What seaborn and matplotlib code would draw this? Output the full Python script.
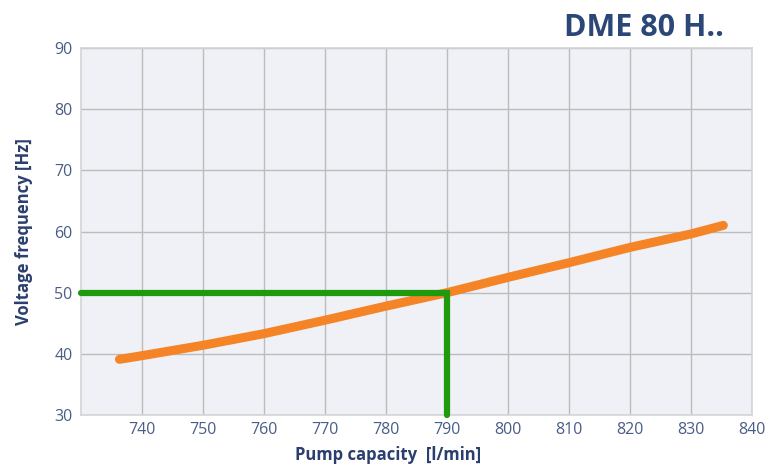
import matplotlib
matplotlib.use("Agg")
import matplotlib.pyplot as plt
import seaborn as sns

# Pump curve (capacity l/min vs frequency Hz)
capacity = [736.3, 740, 750, 760, 770, 780, 790, 800, 810, 820, 830, 835.3]
frequency = [39.1, 39.7, 41.4, 43.3, 45.5, 47.8, 50.0, 52.5, 54.9, 57.4, 59.6, 61.0]

# Operating point guide (50 Hz -> 790 l/min)
guide_x = [730, 790, 790]
guide_y = [50, 50, 30]

x_ticks = [740, 750, 760, 770, 780, 790, 800, 810, 820, 830, 840]
y_ticks = [30, 40, 50, 60, 70, 80, 90]

title = "DME 80 H.."
x_label = "Pump capacity  [l/min]"
y_label = "Voltage frequency [Hz]"

sns.set_theme(style="whitegrid")
plt.rcParams['font.family'] = ['Open Sans', 'DejaVu Sans']

tick_color = "#4a5c88"
label_color = "#2b3f6e"
title_color = "#2b4777"

fig = plt.figure(figsize=(7.7, 4.73), dpi=100)
ax = fig.add_axes([81 / 770, 1 - 415 / 473, 671 / 770, 367 / 473])
ax.set_facecolor("#f0f1f6")

sns.lineplot(x=capacity, y=frequency, ax=ax, color="#f58427", linewidth=6.5,
             solid_capstyle="round", clip_on=False, zorder=3)
# estimator=None keeps the corner (two points at x=790) instead of averaging
sns.lineplot(x=guide_x, y=guide_y, ax=ax, sort=False, estimator=None,
             color="#1f9a0c", linewidth=4.5,
             solid_capstyle="round", solid_joinstyle="miter", clip_on=False, zorder=4)

ax.set_xlim(730, 840)
ax.set_ylim(30, 90)
ax.set_xticks(x_ticks)
ax.set_yticks(y_ticks)
ax.grid(True, color="#bcbcbc", linewidth=1.0)
for s in ax.spines.values():
    s.set_color("#d4d4d4")
    s.set_linewidth(1.2)

ax.tick_params(axis="both", length=0, labelsize=11.5, labelcolor=tick_color)
ax.tick_params(axis="y", pad=6)
ax.tick_params(axis="x", pad=5)

ax.set_xlabel(x_label, fontsize=12, fontweight="bold", color=label_color)
ax.set_ylabel(y_label, fontsize=12, fontweight="bold", color=label_color)
ax.xaxis.set_label_coords((388 - 81) / 671, (415 - 446) / 367)
ax.yaxis.set_label_coords((33 - 81) / 671, 0.5)

fig.text(724 / 770, 1 - 36 / 473, title, ha="right", va="baseline",
         fontsize=22, fontweight="bold", color=title_color)

fig.savefig("out.png", dpi=100)
